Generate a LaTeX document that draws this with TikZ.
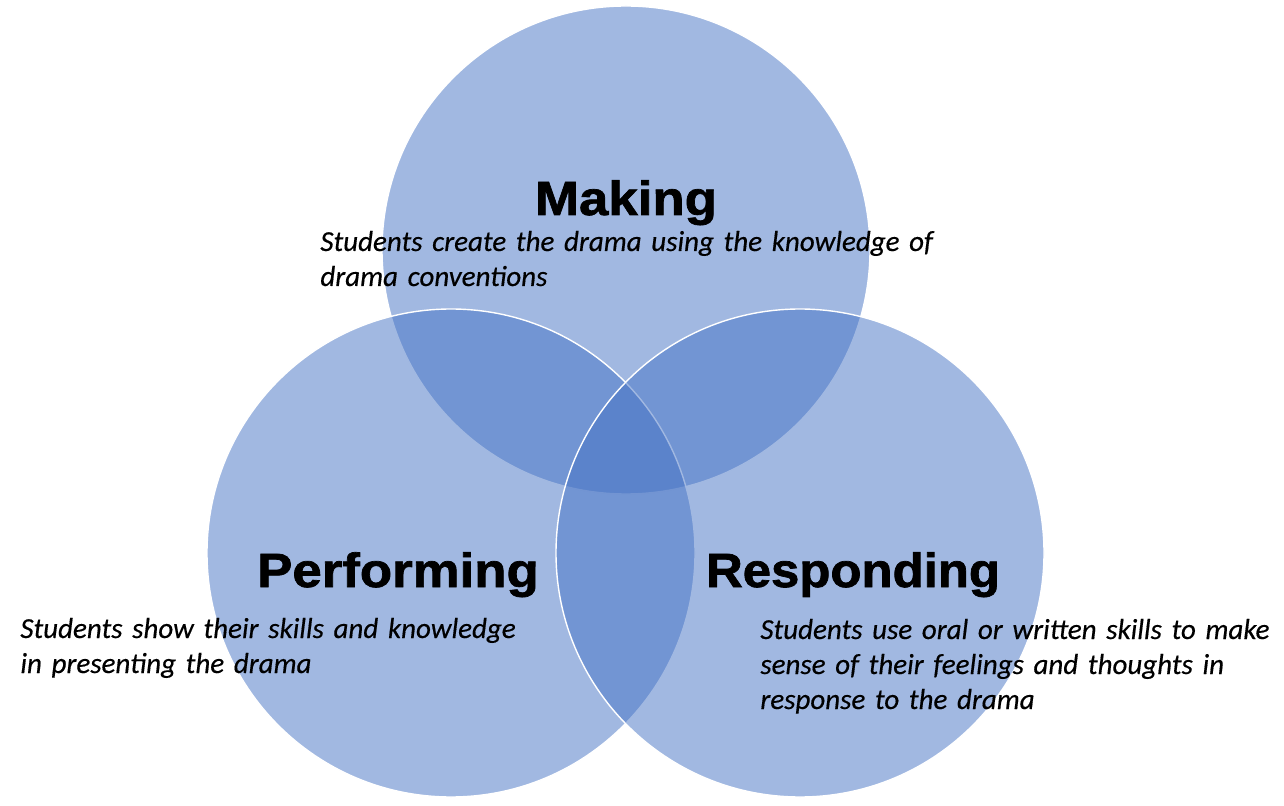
\documentclass[tikz,border=0pt]{standalone}
\usepackage{fontspec}
\newfontfamily\bodyfont[FakeBold=0.4]{Carlito Italic}
\newfontfamily\titlefont[FakeBold=1.5,FakeStretch=1.1]{Liberation Sans Bold}
\newfontfamily\titlefontnarrow[FakeBold=1.5,FakeStretch=1.06]{Liberation Sans Bold}
\definecolor{vennblue}{HTML}{4472C4}
\tikzset{
  venn/.style={fill=vennblue, fill opacity=0.5, draw=white, draw opacity=1, line width=0.7pt},
  title/.style={anchor=base, inner sep=0pt, font=\titlefont\fontsize{24}{28}\selectfont, text=black},
  body/.style={anchor=base west, inner sep=0pt, align=left, text width=#1, font=\bodyfont\fontsize{14.5}{17.5}\selectfont, text=black}
}
\begin{document}
\begin{tikzpicture}[x=0.5pt,y=-0.5pt]
\useasboundingbox (0,0) rectangle (1284,806);
\path[venn] (626,250) circle[radius=244];
\path[venn] (451,553) circle[radius=244];
\path[venn] (800,553) circle[radius=244];
\node[title] (making) at (626,215) {Making};
\node[title] (performing) at (398,587) {Performing};
\node[title, font=\titlefontnarrow\fontsize{24}{28}\selectfont] (responding) at (853,587) {Responding};
\node[body=340pt] (makingtxt) at (320,251) {Students create the drama using the knowledge of\\drama conventions};
\node[body=300pt] (performingtxt) at (20,638) {Students show their skills and knowledge\\in presenting the drama};
\node[body=290pt] (respondingtxt) at (760,639) {Students use oral or written skills to make\\sense of their feelings and thoughts in\\response to the drama};
\end{tikzpicture}
\end{document}
